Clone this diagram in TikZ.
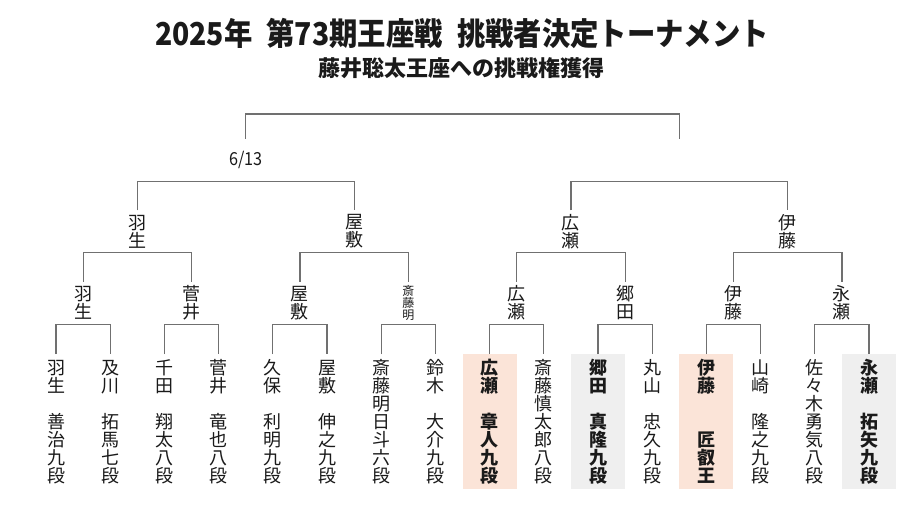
\documentclass[tikz,border=0pt]{standalone}
\usepackage{fontspec}
\setmainfont{Noto Sans CJK JP}
\definecolor{peach}{HTML}{FBE4D8}
\definecolor{lightg}{HTML}{EFEFEF}
\definecolor{linec}{HTML}{707070}
\definecolor{textc}{HTML}{1A1A1A}
\begin{document}
\begin{tikzpicture}[x=1pt,y=-1pt,
  every node/.style={text=textc},
  leaf/.style={minimum width=54pt, minimum height=135pt, inner sep=0pt, anchor=north, align=center, font=\fontsize{18}{18}\selectfont},
  winner/.style={font=\fontsize{18}{18}\selectfont\bfseries},
  pk/.style={fill=peach},
  gy/.style={fill=lightg},
  lab/.style={minimum height=42pt, inner sep=0pt, align=center, font=\fontsize{18}{18}\selectfont},
  smalllab/.style={lab, font=\fontsize{12}{11.8}\selectfont},
  datelab/.style={lab, font=\fontsize{18}{18}\selectfont\addfontfeatures{FakeStretch=0.9}},
  brk/.style={draw=linec, line width=1.2pt},
  titlestyle/.style={inner sep=0pt, font=\fontsize{31.5}{31.5}\selectfont\bfseries\addfontfeatures{FakeStretch=0.9}},
  substyle/.style={inner sep=0pt, font=\fontsize{22}{22}\selectfont\bfseries}]
\fill[white] (0,0) rectangle (912,513);
\useasboundingbox (0,0) rectangle (912,513);

\node[titlestyle] (title) at (462,33) {2025年\hspace{0.45em}第73期王座戦\hspace{0.45em}挑戦者決定トーナメント};
\node[substyle] (sub) at (461,68) {藤井聡太王座への挑戦権獲得};

% leaves
\node[leaf] (L0) at (56,354) {羽\\生\\　\\善\\治\\九\\段};
\node[leaf] (L1) at (110.2,354) {及\\川\\　\\拓\\馬\\七\\段};
\node[leaf] (L2) at (164.4,354) {千\\田\\　\\翔\\太\\八\\段};
\node[leaf] (L3) at (218.6,354) {菅\\井\\　\\竜\\也\\八\\段};
\node[leaf] (L4) at (272.8,354) {久\\保\\　\\利\\明\\九\\段};
\node[leaf] (L5) at (327,354) {屋\\敷\\　\\伸\\之\\九\\段};
\node[leaf] (L6) at (381.2,354) {斎\\藤\\明\\日\\斗\\六\\段};
\node[leaf] (L7) at (435.4,354) {鈴\\木\\　\\大\\介\\九\\段};
\node[leaf,pk,winner] (L8) at (489.6,354) {広\\瀬\\　\\章\\人\\九\\段};
\node[leaf] (L9) at (543.8,354) {斎\\藤\\慎\\太\\郎\\八\\段};
\node[leaf,gy,winner] (L10) at (598,354) {郷\\田\\　\\真\\隆\\九\\段};
\node[leaf] (L11) at (652.2,354) {丸\\山\\　\\忠\\久\\九\\段};
\node[leaf,pk,winner] (L12) at (706.4,354) {伊\\藤\\　\\　\\匠\\叡\\王};
\node[leaf] (L13) at (760.6,354) {山\\崎\\　\\隆\\之\\九\\段};
\node[leaf] (L14) at (814.8,354) {佐\\々\\木\\勇\\気\\八\\段};
\node[leaf,gy,winner] (L15) at (869,354) {永\\瀬\\　\\拓\\矢\\九\\段};

% round 2 labels
\node[lab] (R0) at (83.1,303) {羽\\生};
\node[lab] (R1) at (191.5,303) {菅\\井};
\node[lab] (R2) at (299.9,303) {屋\\敷};
\node[smalllab] (R3) at (408.3,303) {斎\\藤\\明};
\node[lab] (R4) at (516.7,303) {広\\瀬};
\node[lab] (R5) at (625.1,303) {郷\\田};
\node[lab] (R6) at (733.5,303) {伊\\藤};
\node[lab] (R7) at (841.9,303) {永\\瀬};

% quarter-final labels
\node[lab] (Q0) at (137.3,231.5) {羽\\生};
\node[lab] (Q1) at (354.1,231.5) {屋\\敷};
\node[lab] (Q2) at (570.9,231.5) {広\\瀬};
\node[lab] (Q3) at (787.7,231.5) {伊\\藤};

% semi-finals
\node[datelab] (S0) at (245.7,160) {6/13};
\node[lab] (S1) at (679.3,160) {};
\coordinate (F) at (462.5,114);

% brackets
\draw[brk] (L0.north) |- (R0.south) -| (L1.north);
\draw[brk] (L2.north) |- (R1.south) -| (L3.north);
\draw[brk] (L4.north) |- (R2.south) -| (L5.north);
\draw[brk] (L6.north) |- (R3.south) -| (L7.north);
\draw[brk] (L8.north) |- (R4.south) -| (L9.north);
\draw[brk] (L10.north) |- (R5.south) -| (L11.north);
\draw[brk] (L12.north) |- (R6.south) -| (L13.north);
\draw[brk] (L14.north) |- (R7.south) -| (L15.north);

\draw[brk] (R0.north) |- (Q0.south) -| (R1.north);
\draw[brk] (R2.north) |- (Q1.south) -| (R3.north);
\draw[brk] (R4.north) |- (Q2.south) -| (R5.north);
\draw[brk] (R6.north) |- (Q3.south) -| (R7.north);

\draw[brk] (Q0.north) |- (S0.south) -| (Q1.north);
\draw[brk] (Q2.north) |- (S1.south) -| (Q3.north);

\draw[brk] (S0.north) |- (F) -| (S1.north);
\end{tikzpicture}
\end{document}
